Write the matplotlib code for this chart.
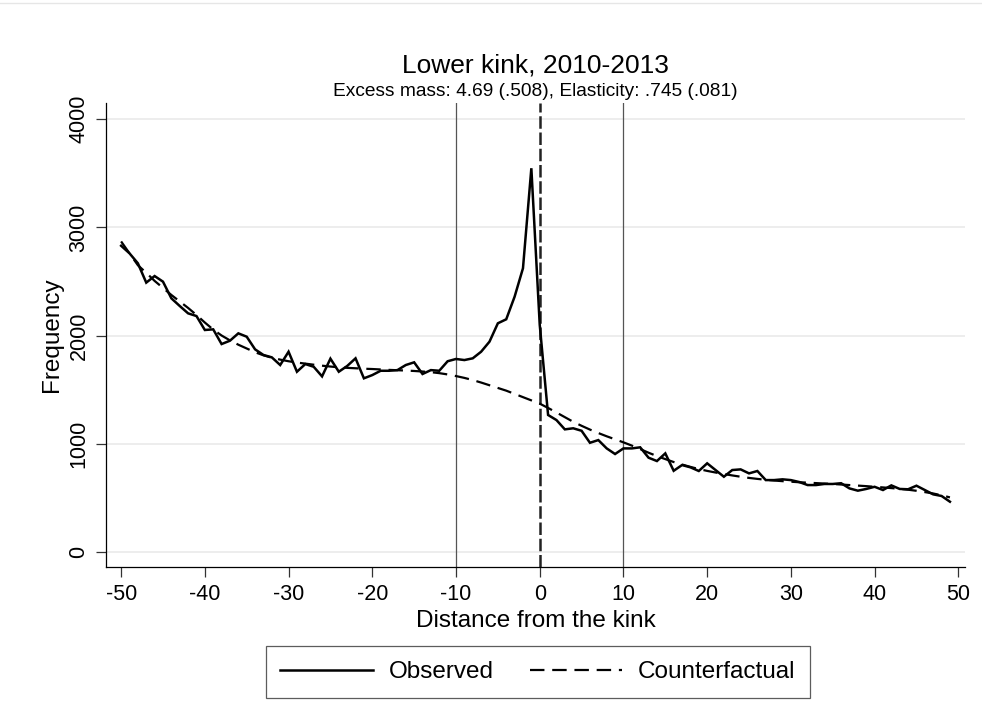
# plot.py
#
# Bunching plot at the lower kink: observed frequency of taxpayers by
# distance from the kink, and the counterfactual density fitted around it.

import numpy as np
import matplotlib.pyplot as plt
from matplotlib.lines import Line2D


# =========================
# Data
# =========================

# distance bins from the kink (-50 .. 49)
distance = list(range(-50, 50))

observed = [
    2830, 2760, 2668, 2489, 2550, 2498, 2344, 2273, 2205, 2180,
    2051, 2057, 1921, 1952, 2020, 1989, 1872, 1820, 1798, 1727,
    1850, 1665, 1736, 1711, 1622, 1786, 1665, 1718, 1789, 1604,
    1634, 1674, 1674, 1680, 1727, 1752, 1644, 1680, 1674, 1762,
    1783, 1773, 1789, 1850, 1943, 2113, 2150, 2359, 2622, 3547,
    2100, 1265, 1218, 1132, 1142, 1119, 1008, 1033, 956, 904,
    956, 956, 966, 870, 839, 910, 749, 802, 781, 747,
    818, 756, 694, 756, 762, 725, 747, 663, 663, 670,
    663, 645, 617, 617, 627, 627, 634, 586, 565, 581,
    601, 571, 614, 581, 578, 611, 571, 531, 516, 463,
]

counterfactual = [
    2870, 2760, 2650, 2580, 2505, 2440, 2375, 2315, 2255, 2190,
    2120, 2055, 2000, 1955, 1915, 1880, 1845, 1817, 1795, 1777,
    1762, 1750, 1740, 1730, 1721, 1713, 1706, 1701, 1697, 1693,
    1690, 1686, 1682, 1679, 1676, 1672, 1667, 1661, 1652, 1640,
    1625, 1608, 1588, 1565, 1540, 1515, 1490, 1460, 1430, 1400,
    1370, 1330, 1288, 1245, 1202, 1165, 1130, 1098, 1068, 1040,
    1012, 982, 950, 916, 885, 857, 830, 807, 785, 765,
    748, 733, 719, 706, 694, 683, 674, 666, 659, 653,
    648, 643, 639, 635, 631, 627, 622, 617, 612, 607,
    601, 595, 589, 582, 574, 564, 552, 539, 522, 503,
]

# bunching window and kink
window = [-10, 10]
kink = 0

x_ticks = list(range(-50, 51, 10))
y_ticks = [0, 1000, 2000, 3000, 4000]

title = "Lower kink, 2010-2013"
subtitle = "Excess mass: 4.69 (.508), Elasticity: .745 (.081)"


# =========================
# Plot
# =========================

def main():

    plt.rcParams["font.family"] = ["Liberation Sans", "DejaVu Sans"]
    plt.rcParams["axes.unicode_minus"] = False

    fig = plt.figure(figsize=(9.82, 7.11), dpi=100)
    ax = fig.add_axes([0.108, 0.2025, 0.8747, 0.6526])

    # light gridlines behind everything
    for yv in y_ticks:
        ax.axhline(yv, color="#eaeaea", lw=1.2, zorder=0)

    # window edges and kink
    for xv in window:
        ax.axvline(xv, color="#555555", lw=0.9, zorder=1)
    ax.axvline(kink, color="#222222", lw=1.8, dashes=(5, 1.5), zorder=1)

    obs_line, = ax.plot(distance, observed, color="black", lw=1.8,
                        solid_joinstyle="miter", zorder=3)
    cf_line, = ax.plot(distance, counterfactual, color="black", lw=1.6,
                       dashes=(6.5, 3.5), zorder=2)

    ax.set_xlim(-51.8, 50.8)
    ax.set_ylim(-141, 4150)

    ax.set_xticks(x_ticks)
    ax.set_yticks(y_ticks)
    ax.set_yticklabels([str(v) for v in y_ticks], rotation=90, va="center")

    ax.tick_params(axis="both", direction="out", length=7, width=0.9,
                   color="#333333", labelsize=15.5, pad=5)

    for side in ["top", "right"]:
        ax.spines[side].set_visible(False)
    for side in ["left", "bottom"]:
        ax.spines[side].set_linewidth(0.9)

    ax.set_xlabel("Distance from the kink", fontsize=17.5, labelpad=4)
    ax.set_ylabel("Frequency", fontsize=17.5, labelpad=4)

    fig.text(0.545, 1 - 72 / 711, title, ha="center", va="baseline",
             fontsize=19)
    fig.text(0.545, 1 - 96 / 711, subtitle, ha="center", va="baseline",
             fontsize=13.8)

    leg = fig.legend([obs_line, cf_line], ["Observed", "Counterfactual"],
                     loc="center", bbox_to_anchor=(538 / 982, 1 - 672 / 711),
                     ncol=2, fontsize=17.5, frameon=True, fancybox=False,
                     handlelength=3.8, handletextpad=0.65,
                     columnspacing=1.5, borderpad=0.6)
    leg.get_frame().set_edgecolor("#333333")
    leg.get_frame().set_linewidth(0.9)

    # faint border at the top of the graph region
    fig.add_artist(Line2D([0, 1], [1 - 3 / 711, 1 - 3 / 711],
                          color="#e6e6e6", lw=1.0))

    fig.savefig("out.png", dpi=100, facecolor="white")


if __name__ == "__main__":
    main()
